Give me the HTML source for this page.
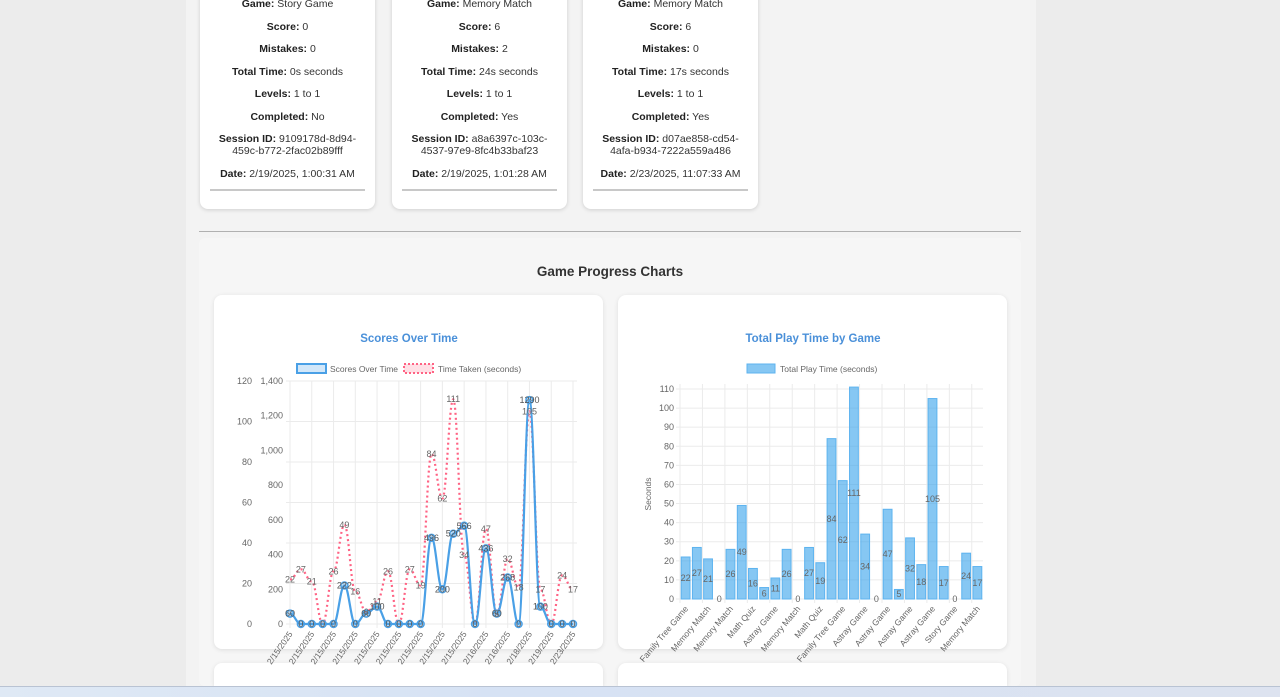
<!DOCTYPE html>
<html style="width:1280px;height:697px;overflow:hidden"><head><meta charset="utf-8">
<style>
*{box-sizing:border-box;margin:0;padding:0}
body{width:1280px;height:697px;overflow:hidden;background:#ececec;font-family:"Liberation Sans",Arial,sans-serif;position:relative}
.main{position:absolute;left:186px;top:0;width:850px;height:697px;background:#f3f3f3}
.card{position:absolute;top:-10px;width:175px;height:219px;background:#fff;border-radius:8px;box-shadow:0 1px 4px rgba(0,0,0,.15);text-align:center;font-size:10.5px;color:#333}
.card p{position:absolute;left:0;width:100%;line-height:12px}
.card b{color:#222}
.card .hr{position:absolute;left:10px;right:10px;top:199px;border-top:2px solid #c8c8c8}
.sep{position:absolute;left:199px;top:231px;width:822px;border-top:1px solid #b0b0b0}
.panel{position:absolute;left:199px;top:238px;width:822px;height:448px;background:#f6f6f6;border-radius:6px}
.ptitle{position:absolute;left:199px;top:264px;width:822px;text-align:center;font-weight:bold;font-size:13.5px;color:#333}
.ccard{position:absolute;background:#fff;border-radius:8px;box-shadow:0 1px 5px rgba(0,0,0,.1)}
svg{position:absolute;left:0;top:0}
.task{position:absolute;left:0;top:686px;width:1280px;height:11px;background:linear-gradient(90deg,#dfe9f5,#d6e2f4 40%,#dde3f0);border-top:1px solid #b9c3d3}
</style></head><body>
<div class="main"></div>

<div class="card" style="left:200px">
<p style="top:8px"><b>Game:</b> Story Game</p><p style="top:31px"><b>Score:</b> 0</p><p style="top:53px"><b>Mistakes:</b> 0</p><p style="top:76px"><b>Total Time:</b> 0s seconds</p><p style="top:98px"><b>Levels:</b> 1 to 1</p><p style="top:121px"><b>Completed:</b> No</p><p style="top:143px"><b>Session ID:</b> 9109178d-8d94-<br>459c-b772-2fac02b89fff</p><p style="top:178px"><b>Date:</b> 2/19/2025, 1:00:31 AM</p><div class="hr"></div></div>
<div class="card" style="left:392px">
<p style="top:8px"><b>Game:</b> Memory Match</p><p style="top:31px"><b>Score:</b> 6</p><p style="top:53px"><b>Mistakes:</b> 2</p><p style="top:76px"><b>Total Time:</b> 24s seconds</p><p style="top:98px"><b>Levels:</b> 1 to 1</p><p style="top:121px"><b>Completed:</b> Yes</p><p style="top:143px"><b>Session ID:</b> a8a6397c-103c-<br>4537-97e9-8fc4b33baf23</p><p style="top:178px"><b>Date:</b> 2/19/2025, 1:01:28 AM</p><div class="hr"></div></div>
<div class="card" style="left:583px">
<p style="top:8px"><b>Game:</b> Memory Match</p><p style="top:31px"><b>Score:</b> 6</p><p style="top:53px"><b>Mistakes:</b> 0</p><p style="top:76px"><b>Total Time:</b> 17s seconds</p><p style="top:98px"><b>Levels:</b> 1 to 1</p><p style="top:121px"><b>Completed:</b> Yes</p><p style="top:143px"><b>Session ID:</b> d07ae858-cd54-<br>4afa-b934-7222a559a486</p><p style="top:178px"><b>Date:</b> 2/23/2025, 11:07:33 AM</p><div class="hr"></div></div>

<div class="sep"></div>
<div class="panel"></div>
<div class="ptitle">Game Progress Charts</div>
<div class="ccard" style="left:214px;top:295px;width:389px;height:354px"></div>
<div class="ccard" style="left:618px;top:295px;width:389px;height:354px"></div>
<div class="ccard" style="left:214px;top:663px;width:389px;height:23px;border-radius:8px 8px 0 0"></div>
<div class="ccard" style="left:618px;top:663px;width:389px;height:23px;border-radius:8px 8px 0 0"></div>

<svg id="chart" width="1280" height="697"></svg>
<div class="task"></div>

<script>
const dates=["2/15/2025","2/15/2025","2/15/2025","2/15/2025","2/15/2025","2/15/2025","2/15/2025","2/15/2025","2/15/2025","2/15/2025","2/15/2025","2/15/2025","2/15/2025","2/15/2025","2/15/2025","2/15/2025","2/15/2025","2/15/2025","2/16/2025","2/16/2025","2/16/2025","2/16/2025","2/18/2025","2/18/2025","2/19/2025","2/19/2025","2/23/2025"];
const scores=[60,0,0,0,0,222,0,60,100,0,0,0,0,496,200,520,566,0,436,60,268,0,1290,100,0,0,0];
const times=[22,27,21,0,26,49,16,6,11,26,0,27,19,84,62,111,34,0,47,5,32,18,105,17,0,24,17];
const games=["Family Tree Game","Family Tree Game","Memory Match","Memory Match","Memory Match","Math Quiz","Math Quiz","Astray Game","Astray Game","Memory Match","Memory Match","Math Quiz","Math Quiz","Family Tree Game","Family Tree Game","Astray Game","Astray Game","Astray Game","Astray Game","Astray Game","Astray Game","Astray Game","Astray Game","Story Game","Story Game","Memory Match","Memory Match"];
const playTime=[22,27,21,0,26,49,16,6,11,26,0,27,19,84,62,111,34,0,47,5,32,18,105,17,0,24,17];
const leftTicks=[0,20,40,60,80,100,120];
const rightTicks=[0,200,400,600,800,1000,1200,1400];
const barTicks=[0,10,20,30,40,50,60,70,80,90,100,110];

const svg=document.getElementById('chart');
const NS='http://www.w3.org/2000/svg';
function mk(t,a,txt){const e=document.createElementNS(NS,t);for(const k in a)e.setAttribute(k,a[k]);if(txt!==undefined)e.textContent=txt;svg.appendChild(e);return e;}
function fmt(v){return v.toLocaleString('en-US');}

const L={x0:290,x1:573,y0:624,y1:381};
const lx=i=>L.x0+i*(L.x1-L.x0)/(dates.length-1);
const lyL=v=>L.y0-v/120*(L.y0-L.y1);
const lyR=v=>L.y0-v/1400*(L.y0-L.y1);
let e;
e=mk('text',{x:409,y:342,'text-anchor':'middle','font-size':11.5,'font-weight':'bold',fill:'#4a90d9'},'Scores Over Time');

leftTicks.forEach(v=>{e=mk('line',{x1:L.x0-4,x2:L.x1+4,y1:lyL(v),y2:lyL(v),stroke:'#ebebeb'});
e=mk('text',{x:252,y:lyL(v)+3,'text-anchor':'end','font-size':9,fill:'#666'},v);});
rightTicks.forEach(v=>{e=mk('text',{x:283,y:lyR(v)+3,'text-anchor':'end','font-size':9,fill:'#666'},fmt(v));});
dates.forEach((d,i)=>{if(i%2)return;
e=mk('line',{x1:lx(i),x2:lx(i),y1:L.y1,y2:L.y0+4,stroke:'#ebebeb'});
e=mk('text',{x:lx(i)+3,y:L.y0+10,'text-anchor':'end','font-size':8.5,fill:'#666',transform:`rotate(-55 ${lx(i)+3} ${L.y0+10})`},d);});
function smooth(pts){let p=`M${pts[0][0]},${pts[0][1]}`;for(let i=1;i<pts.length;i++){const a=pts[i-1],b=pts[i],m=(b[0]-a[0])/2.5;p+=` C${a[0]+m},${a[1]} ${b[0]-m},${b[1]} ${b[0]},${b[1]}`;}return p;}
e=mk('path',{d:smooth(times.map((v,i)=>[lx(i),lyL(v)])),fill:'none',stroke:'#ff6384','stroke-width':2.2,'stroke-dasharray':'2 3'});
e=mk('path',{d:smooth(scores.map((v,i)=>[lx(i),lyR(v)])),fill:'none',stroke:'#4aa0e6','stroke-width':2.2});
scores.forEach((v,i)=>{e=mk('circle',{cx:lx(i),cy:lyR(v),r:3.5,fill:'rgba(74,160,230,.35)',stroke:'#4aa0e6','stroke-width':1.5});
e=mk('text',{x:lx(i),y:lyR(v)+3,'text-anchor':'middle','font-size':9,fill:'#555'},v);});
times.forEach((v,i)=>{e=mk('text',{x:lx(i),y:lyL(v)+3,'text-anchor':'middle','font-size':9,fill:'#666'},v);});
e=mk('rect',{x:297,y:364,width:29,height:9,fill:'rgba(74,160,230,.25)',stroke:'#4aa0e6','stroke-width':2});
e=mk('text',{x:330,y:372,'font-size':8.5,fill:'#666'},'Scores Over Time');
e=mk('rect',{x:404,y:364,width:29,height:9,fill:'rgba(255,99,132,.2)',stroke:'#ff6384','stroke-width':2,'stroke-dasharray':'2 2'});
e=mk('text',{x:438,y:372,'font-size':8.5,fill:'#666'},'Time Taken (seconds)');

const B={x0:680,x1:983,y0:599,y1:389};
const bw=(B.x1-B.x0)/playTime.length;
const bx=i=>B.x0+i*bw;
const by=v=>B.y0-v/110*(B.y0-B.y1);
e=mk('text',{x:813,y:342,'text-anchor':'middle','font-size':11.5,'font-weight':'bold',fill:'#4a90d9'},'Total Play Time by Game');

barTicks.forEach(v=>{e=mk('line',{x1:B.x0-4,x2:B.x1,y1:by(v),y2:by(v),stroke:'#ebebeb'});
e=mk('text',{x:674,y:by(v)+3,'text-anchor':'end','font-size':9,fill:'#666'},v);});
games.forEach((g,i)=>{if(i%2)return;const cx=bx(i)+bw/2;
e=mk('line',{x1:bx(i),x2:bx(i),y1:384,y2:B.y0+4,stroke:'#ebebeb'});
e=mk('text',{x:cx+3,y:B.y0+10,'text-anchor':'end','font-size':8.5,fill:'#666',transform:`rotate(-50 ${cx+3} ${B.y0+10})`},g);});
e=mk('text',{x:651,y:494,'text-anchor':'middle','font-size':8.5,fill:'#666',transform:'rotate(-90 651 494)'},'Seconds');
playTime.forEach((v,i)=>{e=mk('rect',{x:bx(i)+1.2,y:by(v),width:bw-2.4,height:B.y0-by(v),fill:'rgba(54,162,235,.6)',stroke:'#5db3ef','stroke-width':1});
e=mk('text',{x:bx(i)+bw/2,y:(by(v)+B.y0)/2+3,'text-anchor':'middle','font-size':9,fill:'#666'},v);});
e=mk('rect',{x:747,y:364,width:28,height:9,fill:'rgba(54,162,235,.6)',stroke:'#5db3ef'});
e=mk('text',{x:780,y:372,'font-size':8.5,fill:'#666'},'Total Play Time (seconds)');
</script>
</body></html>
